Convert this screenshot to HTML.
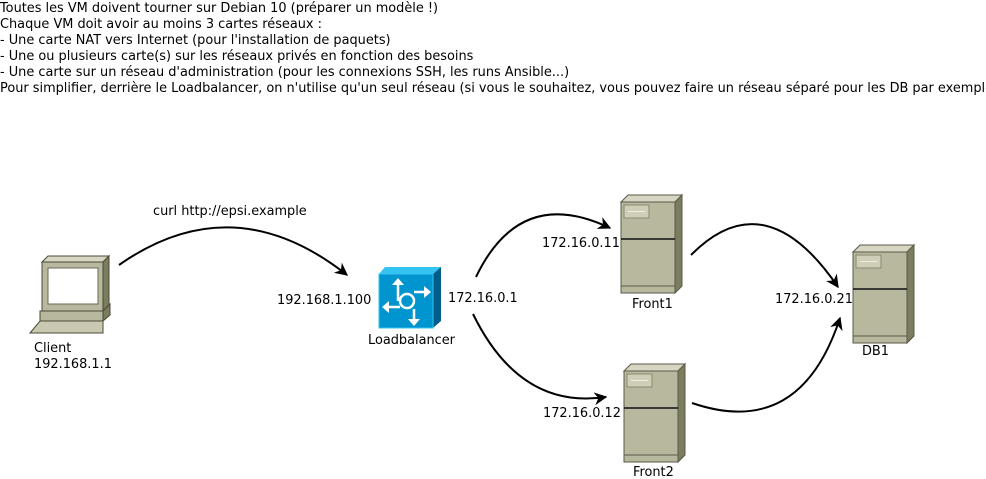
<!DOCTYPE html>
<html><head><meta charset="utf-8"><style>
html,body{margin:0;padding:0;background:#fff;}
svg{display:block;font-family:"DejaVu Sans","Liberation Sans",sans-serif;}
</style></head><body>
<svg width="986" height="479" viewBox="0 0 986 479" xmlns="http://www.w3.org/2000/svg">
<defs>
<marker id="ar" viewBox="0 0 10 10" refX="9" refY="5" markerWidth="13" markerHeight="13" orient="auto" markerUnits="userSpaceOnUse">
<path d="M0,0 L10,5 L0,10 L3,5 Z" fill="#000"/>
</marker>
<g id="srv">
<polygon points="0,7 7,0 61,0 54,7" fill="#d6d6c2" stroke="#5a5a48" stroke-width="1"/>
<polygon points="54,7 61,0 61,91 54,98" fill="#7c7c5e" stroke="#5a5a48" stroke-width="1"/>
<rect x="0" y="7" width="54" height="91" fill="#b8b89e" stroke="#5a5a48" stroke-width="1"/>
<line x1="0" y1="44" x2="54" y2="44" stroke="#111" stroke-width="1.5"/>
<line x1="0" y1="91" x2="54" y2="91" stroke="#5a5a48" stroke-width="1"/>
<rect x="3" y="10" width="25" height="13" fill="#cfcfb8" stroke="#8a8a70" stroke-width="1"/>
<line x1="7" y1="16.5" x2="24" y2="16.5" stroke="#eeeee0" stroke-width="1"/>
</g>
</defs>
<g font-size="12.9" fill="#000">
<text x="0" y="12">Toutes les VM doivent tourner sur Debian 10 (préparer un modèle !)</text>
<text x="0" y="28">Chaque VM doit avoir au moins 3 cartes réseaux :</text>
<text x="0" y="44">- Une carte NAT vers Internet (pour l'installation de paquets)</text>
<text x="0" y="60">- Une ou plusieurs carte(s) sur les réseaux privés en fonction des besoins</text>
<text x="0" y="76">- Une carte sur un réseau d'administration (pour les connexions SSH, les runs Ansible...)</text>
<text x="0" y="92">Pour simplifier, derrière le Loadbalancer, on n'utilise qu'un seul réseau (si vous le souhaitez, vous pouvez faire un réseau séparé pour les DB par exemple)</text>
</g>
<!-- client -->
<g stroke="#4a4a38" stroke-width="1">
<polygon points="42,262 48,256 109,256 103,262" fill="#d6d6c2"/>
<polygon points="103,262 109,256 109,305 103,311" fill="#7c7c5e"/>
<rect x="42" y="262" width="61" height="49" fill="#b8b89e"/>
<rect x="48" y="268" width="50" height="36" fill="#fff" stroke="#6a6a55"/>
<polygon points="103,311 110,304 110,315 103,321" fill="#7c7c5e"/>
<rect x="40" y="311" width="63" height="10" fill="#b8b89e"/>
<polygon points="30,333 40,321 103,321 103,333" fill="#c9c9b2"/>
</g>
<!-- loadbalancer -->
<polygon points="379,274 385,267 441,267 433,274" fill="#33c4f2"/>
<polygon points="433,274 441,267 441,321 433,328" fill="#005f8a"/>
<rect x="379" y="274" width="54" height="54" fill="#0095cf" stroke="#33c4f2" stroke-width="1"/>
<g stroke="#fff" stroke-width="2.5" fill="none">
<circle cx="407" cy="301" r="7"/>
<line x1="398" y1="301" x2="398" y2="284"/>
<line x1="414" y1="292" x2="425" y2="292"/>
<line x1="400" y1="307" x2="388" y2="307"/>
<line x1="414" y1="309" x2="414" y2="320"/>
</g>
<g fill="#fff">
<polygon points="392,285 398,278 404,285"/>
<polygon points="424,286 431,292 424,298"/>
<polygon points="389,301 382,307 389,313"/>
<polygon points="408,319 414,326 420,319"/>
</g>
<use href="#srv" x="621" y="195"/>
<use href="#srv" x="624" y="364"/>
<use href="#srv" x="853" y="245"/>
<!-- connectors -->
<g stroke="#000" stroke-width="2" fill="none" marker-end="url(#ar)">
<path d="M119,265 Q233,185 347,275"/>
<path d="M476,277 Q520,185 610,228"/>
<path d="M473,314 Q520,410 606,397"/>
<path d="M691,255 Q765,180 838,287"/>
<path d="M692,403 Q800,440 840,318"/>
</g>
<g font-size="12.9" fill="#000">
<text x="153" y="215">curl http://epsi.example</text>
<text x="277" y="304">192.168.1.100</text>
<text x="448" y="302">172.16.0.1</text>
<text x="368" y="344">Loadbalancer</text>
<text x="34" y="352">Client</text>
<text x="34" y="368">192.168.1.1</text>
<text x="542" y="247">172.16.0.11</text>
<text x="632" y="308">Front1</text>
<text x="543" y="417">172.16.0.12</text>
<text x="633" y="476">Front2</text>
<text x="775" y="303">172.16.0.21</text>
<text x="862" y="355">DB1</text>
</g>
</svg>
</body></html>
